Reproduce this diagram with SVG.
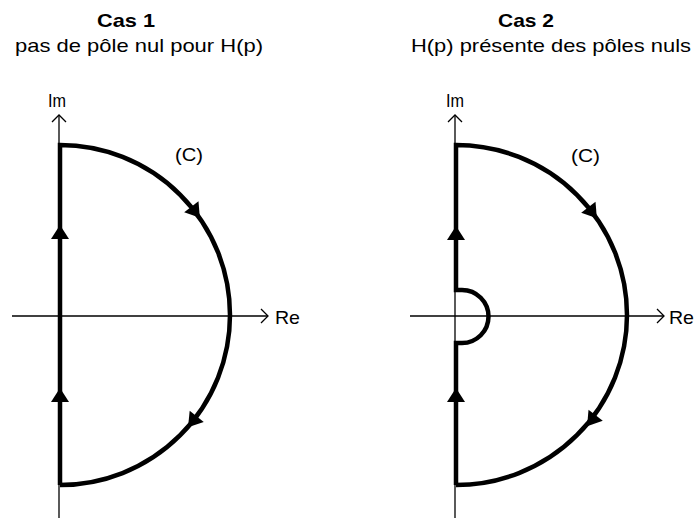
<svg xmlns="http://www.w3.org/2000/svg" width="696" height="518" viewBox="0 0 696 518">
<defs>
<style>
text{font-family:"Liberation Sans",Arial,sans-serif;fill:#000}
.t{font-size:19px;font-weight:bold}
.s{font-size:19px}
.ax{stroke:#000;stroke-width:1.3;fill:none}
.ah{stroke:#000;stroke-width:1.3;fill:none}
.c{stroke:#000;stroke-width:4.5;fill:none;stroke-linejoin:miter}
</style>
<polygon id="tri" points="8,0 -6,-9 -6,9" fill="#000"/>
</defs>
<rect width="696" height="518" fill="#fff"/>
<g id="case1">
<text class="t" x="97" y="27" textLength="58" lengthAdjust="spacingAndGlyphs">Cas 1</text>
<text class="s" x="15" y="52" textLength="248" lengthAdjust="spacingAndGlyphs">pas de pôle nul pour H(p)</text>
<g id="axes1">
<line class="ax" x1="59" y1="518" x2="59" y2="115"/>
<polyline class="ah" points="52,122 59,115 66,122"/>
<line class="ax" x1="12" y1="316" x2="268" y2="316"/>
<polyline class="ah" points="261,309 268,316 261,323"/>
<text class="s" x="275" y="324" textLength="25" lengthAdjust="spacingAndGlyphs">Re</text>
<text class="s" x="48" y="107" textLength="18" lengthAdjust="spacingAndGlyphs">Im</text>
</g>
<g id="contour1">
<path class="c" d="M60,485 L60,145 A170,170 0 0 1 60,485"/>
<use href="#tri" transform="translate(60,233) rotate(-90)"/>
<use href="#tri" transform="translate(60,396) rotate(-90)"/>
<use href="#tri" transform="translate(195,211.5) rotate(52.5)"/>
<use href="#tri" transform="translate(193,421) rotate(128.5)"/>
</g>
<text class="s" x="175" y="161" textLength="28" lengthAdjust="spacingAndGlyphs">(C)</text>
</g>
<g id="case2">
<text class="t" x="498" y="27" textLength="56" lengthAdjust="spacingAndGlyphs">Cas 2</text>
<text class="s" x="411" y="52" textLength="280" lengthAdjust="spacingAndGlyphs">H(p) présente des pôles nuls</text>
<g id="axes2">
<line class="ax" x1="455" y1="518" x2="455" y2="115"/>
<polyline class="ah" points="448,122 455,115 462,122"/>
<line class="ax" x1="410" y1="316" x2="664" y2="316"/>
<polyline class="ah" points="657,309 664,316 657,323"/>
<text class="s" x="669" y="324" textLength="25" lengthAdjust="spacingAndGlyphs">Re</text>
<text class="s" x="446" y="107" textLength="18" lengthAdjust="spacingAndGlyphs">Im</text>
</g>
<g id="contour2">
<path class="c" d="M456,485 L456,343 L462,343 A26.5,26.5 0 0 0 462,290 L456,290 L456,145 A171,170 0 0 1 456,485"/>
<use href="#tri" transform="translate(456,234) rotate(-90)"/>
<use href="#tri" transform="translate(456,396) rotate(-90)"/>
<use href="#tri" transform="translate(592,212) rotate(52.6)"/>
<use href="#tri" transform="translate(592,420) rotate(127.5)"/>
</g>
<text class="s" x="571" y="162" textLength="29" lengthAdjust="spacingAndGlyphs">(C)</text>
</g>
</svg>
